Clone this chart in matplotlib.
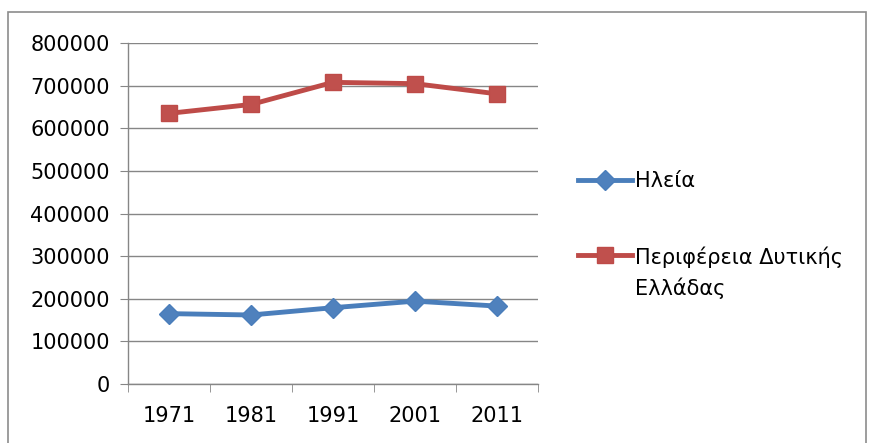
import matplotlib.pyplot as plt
from matplotlib.lines import Line2D
from matplotlib.patches import Rectangle

years = ["1971", "1981", "1991", "2001", "2011"]
ilia = [165100, 161900, 179000, 194400, 182800]
west_greece = [634900, 655800, 707700, 704600, 680700]
series_names = ["Ηλεία", "Περιφέρεια Δυτικής\nΕλλάδας"]

plt.rcParams['font.family'] = ['DejaVu Sans']

W, H = 872, 443
fig = plt.figure(figsize=(W / 100, H / 100), dpi=100)
ax = fig.add_axes([128 / W, 1 - 384 / H, 410 / W, 341 / H])

# outer chart border
fig.patches.append(Rectangle((8 / W, -0.05), 858 / W, 1 - 12 / H + 0.05,
                             transform=fig.transFigure, fill=False,
                             edgecolor="#8c8c8c", linewidth=1.2))

styles = [
    dict(color="#4a7ebb", marker="D", markersize=10, markerfacecolor="#4f81bd"),
    dict(color="#be4b48", marker="s", markersize=12, markerfacecolor="#c0504d"),
]

x = range(len(years))
for vals, st in zip([ilia, west_greece], styles):
    ax.plot(x, vals, linewidth=3.5, markeredgecolor=st["color"], **st)

ax.set_xlim(-0.5, len(years) - 0.5)
ax.set_ylim(0, 800000)
ax.set_yticks(range(0, 800001, 100000))
ax.set_yticklabels([str(v) for v in range(0, 800001, 100000)])
ax.set_xticks(list(x))
ax.set_xticklabels(years)
ax.set_xticks([i + 0.5 for i in range(-1, len(years))], minor=True)
ax.tick_params(axis="x", which="major", length=0, pad=16, labelsize=15)
ax.tick_params(axis="x", which="minor", length=6, color="#868686", direction="out")
ax.tick_params(axis="y", length=6, color="#868686", pad=7, labelsize=15)
ax.grid(axis="y", color="#868686", linewidth=1)
ax.set_axisbelow(True)
for s in ["top", "right"]:
    ax.spines[s].set_visible(False)
for s in ["left", "bottom"]:
    ax.spines[s].set_color("#868686")
    ax.spines[s].set_linewidth(1)

# legend drawn by hand so the handle sits on the first line of a wrapped label
for name, st, ypix in zip(series_names, styles, [180, 255]):
    yf = 1 - ypix / H
    fig.add_artist(Line2D([578 / W, 632 / W], [yf, yf], transform=fig.transFigure,
                          linewidth=3.5, color=st["color"]))
    fig.add_artist(Line2D([605 / W], [yf], transform=fig.transFigure,
                          linestyle="none", marker=st["marker"],
                          markersize=st["markersize"],
                          markerfacecolor=st["markerfacecolor"],
                          markeredgecolor=st["color"]))
    fig.text(635 / W, yf + 9 / H, name, fontsize=15, va="top", ha="left",
             linespacing=1.55)

fig.savefig("out.png", dpi=100)
